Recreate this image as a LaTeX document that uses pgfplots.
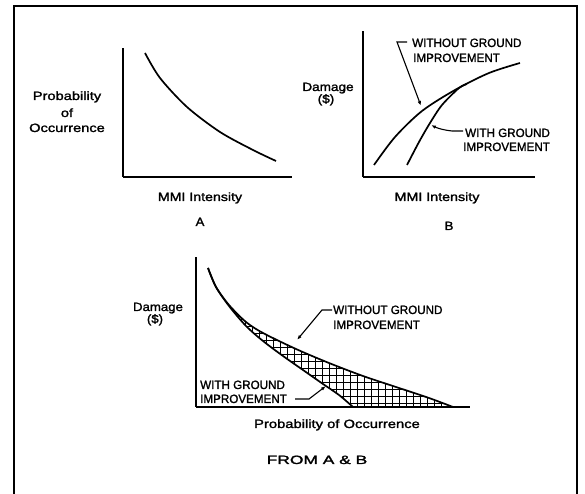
\documentclass[border=0pt]{standalone}
\usepackage{fontspec}
\setmainfont[FakeBold=1.5]{Liberation Sans}
\usepackage{graphicx}
\usepackage{pgfplots}
\pgfplotsset{compat=1.18}
\usetikzlibrary{patterns,arrows.meta}

\pgfdeclarepatternformonly{mygrid}{\pgfqpoint{-0.5pt}{-0.5pt}}{\pgfqpoint{7.5pt}{7.5pt}}{\pgfqpoint{7pt}{7pt}}{%
  \pgfsetlinewidth{0.6pt}%
  \pgfpathmoveto{\pgfqpoint{0pt}{0pt}}\pgfpathlineto{\pgfqpoint{7pt}{0pt}}%
  \pgfpathmoveto{\pgfqpoint{0pt}{0pt}}\pgfpathlineto{\pgfqpoint{0pt}{7pt}}%
  \pgfusepath{stroke}}

\newcommand{\lab}[2]{\scalebox{#1}[1]{#2}}

\pgfplotsset{panel/.style={scale only axis, axis lines=left,
  axis line style={line width=1.5pt,-}, ticks=none, clip=false,
  xmin=0, ymin=0, anchor=south west, axis on top},
  crv/.style={line width=1.7pt, smooth}}

\begin{document}
\begin{tikzpicture}[x=1pt,y=1pt,font=\fontsize{12}{14}\selectfont,
  lead/.style={line width=1.1pt,-{Latex[length=5pt,width=3.5pt]}}]
\path[use as bounding box] (0,0) rectangle (585,494);
\draw[line width=1.5pt] (14,0) -- (14,488) -- (577,488) -- (577,0);

% Panel A
\begin{axis}[panel, at={(123,317)}, width=169pt, height=129pt, xmax=169, ymax=129]
\addplot[crv] coordinates {(22,124)(37,99)(64,70)(97,45)(130,27)(153,16)};
\end{axis}

% Panel B
\begin{axis}[panel, at={(363,317)}, width=172pt, height=146pt, xmax=172, ymax=146]
\addplot[crv] coordinates {(11,12)(32,40)(59,66)(92,87)(126,104)(157,114)};
\addplot[crv] coordinates {(44,12)(56,35)(67,54)(79,72)(96,89)(104,93)};
\end{axis}

% Combined panel
\begin{axis}[panel, at={(196,87)}, width=274pt, height=150pt, xmax=274, ymax=150]
\addplot[pattern=mygrid, draw=none, smooth] coordinates {(12,139)(20,120)(33,102)(50,85)(67,74)(100,58)(133,44)(167,31)(200,20)(233,9)(257,0)} \closedcycle;
\addplot[fill=white, draw=none, smooth] coordinates {(12,139)(20,120)(33,101)(50,81)(67,66)(87,51)(107,37)(127,23)(143,12)(157,0)} \closedcycle;
\addplot[crv] coordinates {(12,139)(20,120)(33,102)(50,85)(67,74)(100,58)(133,44)(167,31)(200,20)(233,9)(257,0)};
\addplot[crv] coordinates {(12,139)(20,120)(33,101)(50,81)(67,66)(87,51)(107,37)(127,23)(143,12)(157,0)};
\end{axis}

% Panel A texts
\node[anchor=base] at (67,394) {\lab{1.22}{Probability}};
\node[anchor=base] at (67,377) {\lab{1.22}{of}};
\node[anchor=base] at (67,362) {\lab{1.22}{Occurrence}};
\node[anchor=base] at (200,293) {\lab{1.18}{MMI Intensity}};
\node[anchor=base] at (200,268) {\lab{1.1}{A}};

% Panel B texts
\node[anchor=base] at (328,403) {\lab{1.13}{Damage}};
\node[anchor=base] at (326,391) {\lab{1.13}{(\$)}};
\node[anchor=base west,inner sep=0pt] at (412,447) {\lab{0.97}{WITHOUT GROUND}};
\node[anchor=base west,inner sep=0pt] at (413,432) {\lab{0.97}{IMPROVEMENT}};
\node[anchor=base west,inner sep=0pt] at (465,357) {\lab{0.97}{WITH GROUND}};
\node[anchor=base west,inner sep=0pt] at (463,343) {\lab{0.97}{IMPROVEMENT}};
\node[anchor=base] at (437,293) {\lab{1.19}{MMI Intensity}};
\node[anchor=base] at (449,264) {\lab{1.1}{B}};
\draw[lead] (407,452) -- (397,452) -- (421,388);
\draw[lead] (463,363) -- (452,363) .. controls (443,364) and (437,366) .. (431,369);

% Combined texts
\node[anchor=base] at (158,183) {\lab{1.1}{Damage}};
\node[anchor=base] at (155,171) {\lab{1.1}{(\$)}};
\node[anchor=base west,inner sep=0pt] at (333,180) {\lab{0.97}{WITHOUT GROUND}};
\node[anchor=base west,inner sep=0pt] at (333,165) {\lab{0.97}{IMPROVEMENT}};
\node[anchor=base west,inner sep=0pt] at (200,105) {\lab{0.97}{WITH GROUND}};
\node[anchor=base west,inner sep=0pt] at (200,91) {\lab{0.97}{IMPROVEMENT}};
\node[anchor=base] at (337,66) {\lab{1.23}{Probability of Occurrence}};
\node[anchor=base] at (317,30) {\lab{1.45}{FROM A \& B}};
\draw[lead] (332,184) -- (322,184) -- (297,154);
\draw[lead] (295,95) -- (309,95) -- (326,108);
\end{tikzpicture}
\end{document}
